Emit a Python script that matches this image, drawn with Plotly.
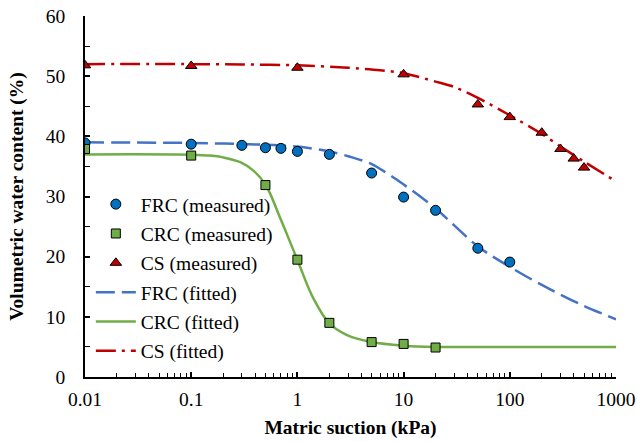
import plotly.graph_objects as go

# ---- measured data ----
frc_x = [0.01, 0.1, 0.3, 0.5, 0.7, 1, 2, 5, 10, 20, 50, 100]
frc_y = [38.9, 38.7, 38.5, 38.1, 38.0, 37.5, 37.0, 33.9, 29.9, 27.7, 21.4, 19.1]

crc_x = [0.01, 0.1, 0.5, 1, 2, 5, 10, 20]
crc_y = [37.9, 36.8, 31.9, 19.5, 9.0, 5.8, 5.5, 4.9]

cs_x = [0.01, 0.1, 1, 10, 50, 100, 200, 300, 400, 500]
cs_y = [51.8, 51.7, 51.4, 50.3, 45.3, 43.2, 40.6, 37.9, 36.3, 34.8]

# ---- fitted curves ----
frc_fit_x = [0.01, 0.1, 0.5, 1, 2, 3, 5, 10, 20, 50, 100, 200, 500, 1000]
frc_fit_y = [39.0, 38.9, 38.6, 38.3, 37.5, 36.7, 35.4, 32.0, 28.0, 21.7, 18.3, 15.3, 11.8, 9.6]

crc_fit_x = [0.01, 0.1, 0.15, 0.2, 0.29, 0.385, 0.5, 0.69, 1, 1.41, 2, 2.9, 5, 10, 20, 100, 1000]
crc_fit_y = [37.0, 36.95, 36.8, 36.5, 35.7, 34.3, 32.0, 26.4, 19.45, 13.1, 8.9, 7.0, 5.8, 5.2, 5.0, 5.0, 5.0]

cs_fit_x = [0.01, 0.1, 0.3, 1, 3, 6, 10, 20, 30, 50, 100, 200, 300, 500, 1000]
cs_fit_y = [52.0, 52.0, 51.95, 51.8, 51.4, 51.0, 50.5, 49.1, 48.2, 46.4, 43.5, 40.4, 38.3, 35.8, 32.5]

x_ticks = [0.01, 0.1, 1, 10, 100, 1000]
x_ticktext = ["0.01", "0.1", "1", "10", "100", "1000"]

FONT = "Liberation Serif"
FS = 19.5

fig = go.Figure()

fig.add_trace(go.Scatter(x=frc_fit_x, y=frc_fit_y, mode="lines", name="FRC (fitted)", legendgroup="g4",
                         line=dict(color="#4472C4", width=2.5, dash="19px,7px", shape="spline", smoothing=0.8),
                         legendrank=4))
fig.add_trace(go.Scatter(x=crc_fit_x, y=crc_fit_y, mode="lines", name="CRC (fitted)", legendgroup="g5",
                         line=dict(color="#70AD47", width=2.5, shape="spline", smoothing=1.0),
                         legendrank=5))
fig.add_trace(go.Scatter(x=cs_fit_x, y=cs_fit_y, mode="lines", name="CS (fitted)", legendgroup="g6",
                         line=dict(color="#C00000", width=2.5, dash="20px,6px,3px,6px", shape="spline", smoothing=0.8),
                         legendrank=6))

fig.add_trace(go.Scatter(x=frc_x, y=frc_y, mode="markers", name="FRC (measured)", legendgroup="g1",
                         marker=dict(symbol="circle", size=10, color="#0070C0",
                                     line=dict(color="black", width=1)),
                         legendrank=1))
fig.add_trace(go.Scatter(x=crc_x, y=crc_y, mode="markers", name="CRC (measured)", legendgroup="g2",
                         marker=dict(symbol="square", size=9, color="#70AD47",
                                     line=dict(color="black", width=1)),
                         legendrank=2))
fig.add_trace(go.Scatter(x=cs_x, y=cs_y, mode="markers", name="CS (measured)", legendgroup="g3",
                         marker=dict(symbol="triangle-up", size=10, color="#C00000",
                                     line=dict(color="black", width=1)),
                         legendrank=3))

minor_x = [m * 10 ** e for e in range(-2, 3) for m in range(2, 10)]

fig.update_layout(
    width=637, height=442,
    margin=dict(l=85, r=21, t=16, b=65),
    paper_bgcolor="white", plot_bgcolor="white",
    font=dict(family=FONT, size=FS, color="black"),
    showlegend=True,
    legend=dict(x=0.011, y=0.532, xanchor="left", yanchor="top",
                bgcolor="rgba(0,0,0,0)", font=dict(family=FONT, size=FS, color="black"),
                traceorder="grouped", tracegroupgap=1, itemwidth=40),
    xaxis=dict(type="log", range=[-2, 3], tickvals=x_ticks, ticktext=x_ticktext,
               automargin=False,
               showline=True, linecolor="black", linewidth=1.5, mirror=False,
               ticks="inside", ticklen=5, tickwidth=1.5, tickcolor="black",
               showgrid=False, zeroline=False,
               minor=dict(tickvals=minor_x, ticks="inside", ticklen=4, tickwidth=1, tickcolor="black", showgrid=False),
               tickfont=dict(family=FONT, size=FS), ticklabelstandoff=4,
               title=dict(text="<b>Matric suction (kPa)</b>", font=dict(family=FONT, size=FS), standoff=11)),
    yaxis=dict(range=[0, 60], dtick=10, tick0=0,
               automargin=False,
               showline=True, linecolor="black", linewidth=1.5, mirror=False,
               ticks="inside", ticklen=5, tickwidth=1.5, tickcolor="black",
               showgrid=False, zeroline=False,
               minor=dict(dtick=5, ticks="inside", ticklen=5, tickwidth=1, tickcolor="black", showgrid=False),
               tickfont=dict(family=FONT, size=FS), ticklabelstandoff=14,
               title=dict(text="<b>Volumetric water content (%)</b>", font=dict(family=FONT, size=FS), standoff=17)),
)

fig.write_html("out.html")
